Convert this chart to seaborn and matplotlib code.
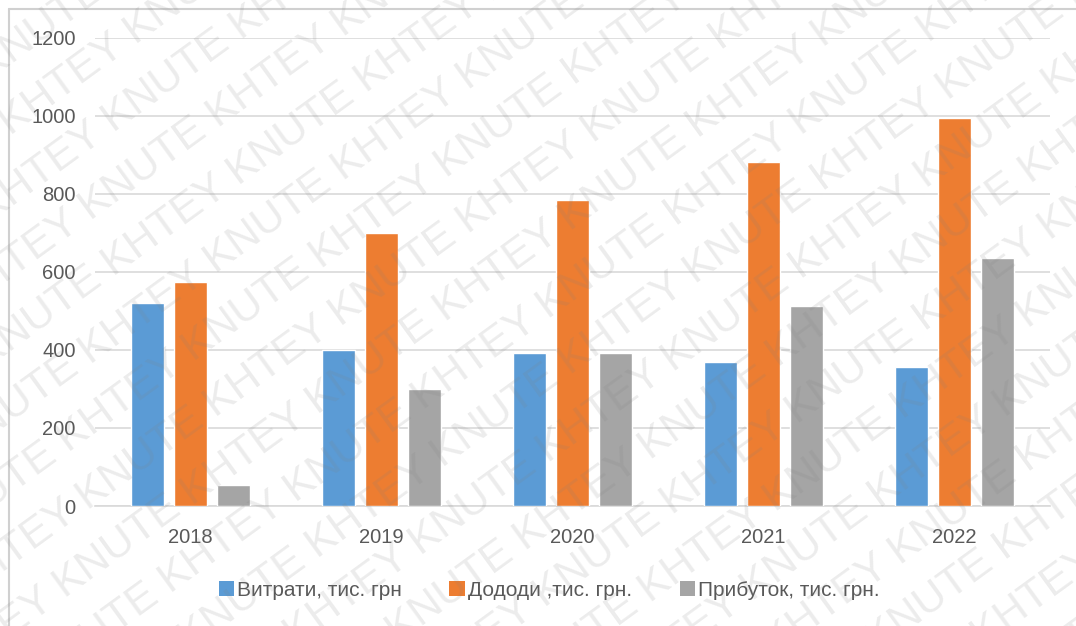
import numpy as np
import pandas as pd
import matplotlib
matplotlib.use("Agg")
import matplotlib.pyplot as plt
from matplotlib.patches import Patch
import seaborn as sns

years = ["2018", "2019", "2020", "2021", "2022"]
expenses = [521, 399, 393, 370, 357]
income = [574, 699, 785, 883, 994]
profit = [53, 300, 392, 513, 637]
series_names = ["Витрати, тис. грн", "Дододи ,тис. грн.", "Прибуток, тис. грн."]
series_colors = ["#5B9BD5", "#ED7D31", "#A5A5A5"]
y_ticks = [0, 200, 400, 600, 800, 1000, 1200]

df = pd.DataFrame({
    "year": years * 3,
    "value": expenses + income + profit,
    "series": [series_names[0]] * 5 + [series_names[1]] * 5 + [series_names[2]] * 5,
})

sns.set_theme(style="white")
plt.rcParams["font.family"] = ["Liberation Sans", "DejaVu Sans"]

text_color = "#595959"
W, H = 1076, 626
fig = plt.figure(figsize=(W / 100, H / 100), dpi=100)
fig.patch.set_facecolor("white")
ax = fig.add_axes([95 / W, 1 - 506 / H, 955 / W, 468 / H])

sns.barplot(data=df, x="year", y="value", hue="series", hue_order=series_names,
            palette=series_colors, width=0.675, gap=0.23, saturation=1,
            errorbar=None, legend=False, ax=ax, zorder=3)

ax.set_ylim(0, 1200)
ax.set_yticks(y_ticks)
ax.set_xlim(-0.5, len(years) - 0.5)
ax.grid(axis="y", color="#D9D9D9", linewidth=1.2, zorder=0)
ax.set_axisbelow(True)
for side in ["top", "right", "left"]:
    ax.spines[side].set_visible(False)
ax.spines["bottom"].set_color("#D9D9D9")
ax.spines["bottom"].set_linewidth(1.2)
ax.set_xlabel("")
ax.set_ylabel("")
ax.tick_params(axis="both", length=0, labelsize=14.5, colors=text_color)
ax.tick_params(axis="y", pad=14)
ax.tick_params(axis="x", pad=16)

handles = [Patch(facecolor=c, edgecolor="none") for c in series_colors]
fig.legend(handles, series_names, loc="center", bbox_to_anchor=(549 / W, 1 - 590 / H),
           ncol=3, frameon=False, fontsize=15, handlelength=0.75, handleheight=0.75,
           handletextpad=0.12, columnspacing=2.3, labelcolor=text_color)

# frame around the chart area
fig.add_artist(plt.Line2D([9 / W, 9 / W], [0, 1 - 9 / H], color="#D0D0D0",
                          linewidth=1.5, transform=fig.transFigure))
fig.add_artist(plt.Line2D([9 / W, 1], [1 - 9 / H, 1 - 9 / H], color="#D0D0D0",
                          linewidth=1.5, transform=fig.transFigure))

# repeated diagonal watermark
mark = " ".join(["KHTEY KNUTE"] * 7)
deg = 36
angle = np.deg2rad(deg)
along = np.array([np.cos(angle), np.sin(angle)])
perp = np.array([-np.sin(angle), np.cos(angle)])
center = np.array([W / 2, H / 2])
for k in range(-11, 12):
    px, py = center + perp * k * 58 + along * (k % 3) * 70
    t = fig.text(px / W, py / H, mark, rotation=deg, rotation_mode="anchor",
                 ha="center", va="center", fontsize=31, color="#808080", alpha=0.15,
                 zorder=10)
    t.set_clip_on(True)
    t.set_clip_box(fig.bbox)

fig.savefig("out.png", dpi=100)
